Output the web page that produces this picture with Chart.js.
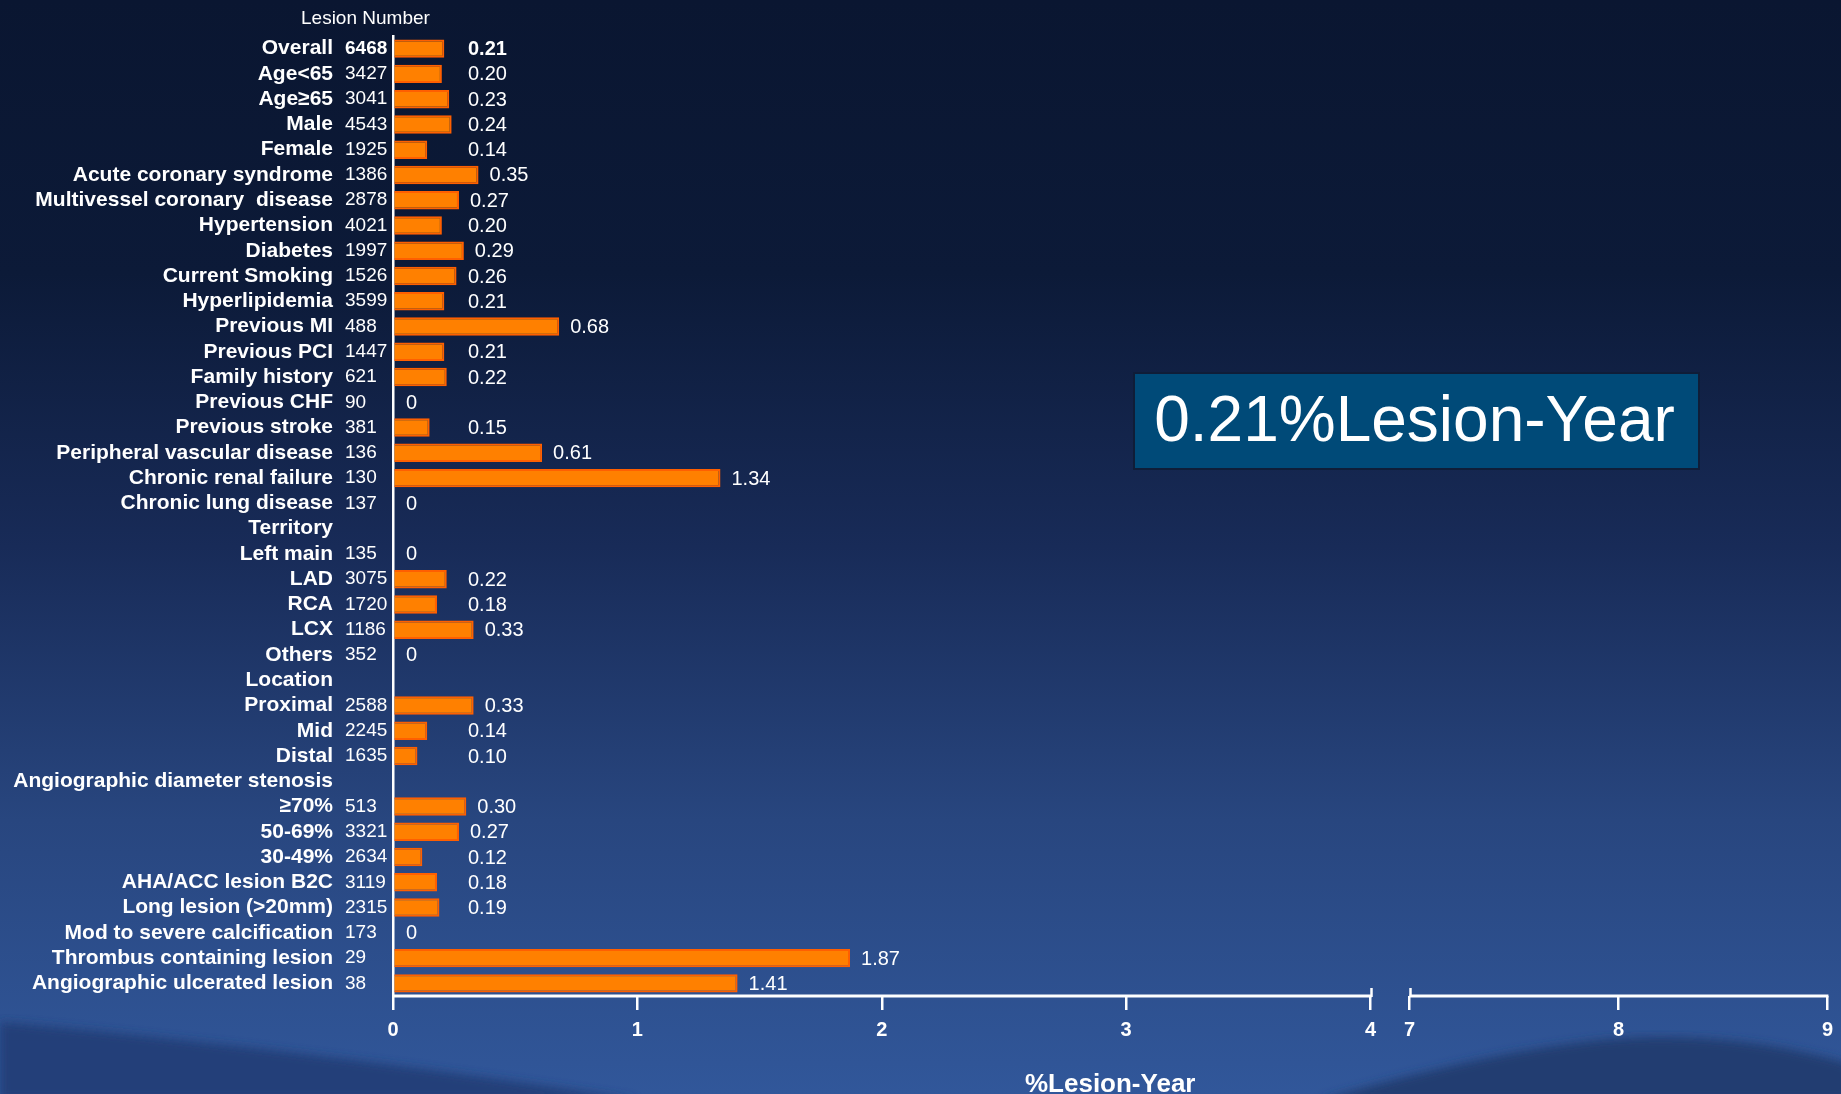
<!DOCTYPE html>
<html>
<head>
<meta charset="utf-8">
<title>Lesion-year event rate by subgroup</title>
<script src="https://cdn.jsdelivr.net/npm/chart.js@4.4.1/dist/chart.umd.min.js"></script>
<style>
  html, body { margin: 0; padding: 0; width: 1841px; height: 1094px; overflow: hidden; background: #0a1631; }
  #bg { position: absolute; left: 0; top: 0; }
  #wrap { position: absolute; left: 0; top: 0; width: 1841px; height: 1094px; }
</style>
</head>
<body>
<svg id="bg" width="1841" height="1094" viewBox="0 0 1841 1094">
  <defs>
    <linearGradient id="sky" x1="0" y1="0" x2="0" y2="1">
      <stop offset="0" stop-color="#0a1631"/>
      <stop offset="0.25" stop-color="#0c1a38"/>
      <stop offset="0.5" stop-color="#182b58"/>
      <stop offset="0.75" stop-color="#28467f"/>
      <stop offset="1" stop-color="#31579a"/>
    </linearGradient>
    <filter id="soft" x="-10%" y="-10%" width="120%" height="120%"><feGaussianBlur stdDeviation="5"/></filter>
  </defs>
  <rect width="1841" height="1094" fill="url(#sky)"/>
  <path d="M0 1022 C 180 1038, 420 1066, 640 1100 L0 1100 Z" fill="#213e76" opacity="0.9" filter="url(#soft)"/>
  <path d="M1320 1100 C 1440 1066, 1560 1038, 1655 1037 C 1740 1037, 1800 1050, 1850 1064 L1850 1100 Z" fill="#233d71" filter="url(#soft)"/>
</svg>
<div id="wrap"><canvas id="c" width="1841" height="1094"></canvas></div>
<script>
// Subgroups (header rows carry no count and no rate)
const categories = [
  'Overall', 'Age<65', 'Age≥65', 'Male', 'Female',
  'Acute coronary syndrome', 'Multivessel coronary  disease', 'Hypertension', 'Diabetes', 'Current Smoking',
  'Hyperlipidemia', 'Previous MI', 'Previous PCI', 'Family history', 'Previous CHF',
  'Previous stroke', 'Peripheral vascular disease', 'Chronic renal failure', 'Chronic lung disease', 'Territory',
  'Left main', 'LAD', 'RCA', 'LCX', 'Others',
  'Location', 'Proximal', 'Mid', 'Distal', 'Angiographic diameter stenosis',
  '≥70%', '50-69%', '30-49%', 'AHA/ACC lesion B2C', 'Long lesion (>20mm)',
  'Mod to severe calcification', 'Thrombus containing lesion', 'Angiographic ulcerated lesion'
];

// Lesion number per subgroup
const lesionNumbers = [
  '6468', '3427', '3041', '4543', '1925',
  '1386', '2878', '4021', '1997', '1526',
  '3599', '488', '1447', '621', '90',
  '381', '136', '130', '137', '',
  '135', '3075', '1720', '1186', '352',
  '', '2588', '2245', '1635', '',
  '513', '3321', '2634', '3119', '2315',
  '173', '29', '38'
];

// Event rate, %lesion-year
const rates = [
  0.21, 0.20, 0.23, 0.24, 0.14,
  0.35, 0.27, 0.20, 0.29, 0.26,
  0.21, 0.68, 0.21, 0.22, 0,
  0.15, 0.61, 1.34, 0, null,
  0, 0.22, 0.18, 0.33, 0,
  null, 0.33, 0.14, 0.10, null,
  0.30, 0.27, 0.12, 0.18, 0.19,
  0, 1.87, 1.41
];

// Axis ticks on both sides of the break
const xTicks = [0, 1, 2, 3, 4, 7, 8, 9];
const xBreakLow = 4;
const xBreakHigh = 7;

const FONT = "'Liberation Sans', Arial, Helvetica, sans-serif";

// Linear axis with a gap between xBreakLow and xBreakHigh
class BrokenLinearScale extends Chart.LinearScale {
  static id = 'brokenLinear';
  static defaults = Chart.LinearScale.defaults;

  buildTicks() {
    return xTicks.map(value => ({ value }));
  }
  _share() {
    // fractions of the axis length used by the low segment and the gap
    return { low: 0.6815, gap: 0.0272 };
  }
  _decimalFor(value) {
    const s = this._share();
    const hi = 1 - s.low - s.gap;
    if (value <= xBreakLow) return (value - this.min) / (xBreakLow - this.min) * s.low;
    if (value >= xBreakHigh) return s.low + s.gap + (value - xBreakHigh) / (this.max - xBreakHigh) * hi;
    return s.low + s.gap / 2;
  }
  getPixelForValue(value) {
    if (value === null || value === undefined || isNaN(value)) return NaN;
    return this.getPixelForDecimal(this._decimalFor(value));
  }
  getValueForPixel(pixel) {
    const d = this.getDecimalForPixel(pixel);
    const s = this._share();
    if (d <= s.low) return this.min + d / s.low * (xBreakLow - this.min);
    const hi = 1 - s.low - s.gap;
    return xBreakHigh + (d - s.low - s.gap) / hi * (this.max - xBreakHigh);
  }
}
Chart.register(BrokenLinearScale);

// Axis line drawn in two segments, break marks, value labels, heading and summary box
const decorations = {
  id: 'decorations',
  afterDatasetsDraw(chart) {
    const { ctx, chartArea } = chart;
    const x = chart.scales.x;
    const y = chart.scales.y;
    const yAxis = chartArea.bottom;

    ctx.save();
    ctx.strokeStyle = '#ffffff';
    ctx.lineWidth = 3;
    ctx.lineCap = 'butt';
    const segs = [[x.getPixelForValue(0), x.getPixelForValue(xBreakLow)],
                  [x.getPixelForValue(xBreakHigh), x.getPixelForValue(x.max)]];
    segs.forEach(([a, b]) => {
      ctx.beginPath();
      ctx.moveTo(a, yAxis);
      ctx.lineTo(b + 1, yAxis);
      ctx.stroke();
    });
    ctx.lineWidth = 2.5;
    [xBreakLow, xBreakHigh].forEach(v => {
      const p = Math.round(x.getPixelForValue(v)) + 0.5;
      ctx.beginPath();
      ctx.moveTo(p, yAxis - 8);
      ctx.lineTo(p, yAxis + 1);
      ctx.stroke();
    });

    // value labels
    const meta = chart.getDatasetMeta(0);
    const zero = x.getPixelForValue(0);
    ctx.fillStyle = '#ffffff';
    ctx.textBaseline = 'middle';
    ctx.textAlign = 'left';
    rates.forEach((v, i) => {
      if (v === null) return;
      const bar = meta.data[i];
      const cy = y.getPixelForValue(i);
      ctx.font = (i === 0 ? 'bold ' : '') + '20px ' + FONT;
      let tx;
      let txt;
      if (v === 0) {
        tx = zero + 13;
        txt = '0';
      } else {
        tx = Math.max(zero + 75, bar.x + 11);
        txt = v.toFixed(2);
      }
      ctx.fillText(txt, tx, cy + 1);
    });

    // column heading for the lesion counts
    ctx.font = '19px ' + FONT;
    ctx.fillText('Lesion Number', 301, 19);

    // overall rate box
    const bx = 1134, by = 373, bw = 565, bh = 96;
    ctx.fillStyle = '#004a78';
    ctx.fillRect(bx, by, bw, bh);
    ctx.strokeStyle = '#0f1d38';
    ctx.lineWidth = 2;
    ctx.strokeRect(bx, by, bw, bh);
    ctx.fillStyle = '#ffffff';
    ctx.font = '64px ' + FONT;
    ctx.textAlign = 'center';
    ctx.fillText(rates[0].toFixed(2) + '%Lesion-Year', bx + bw / 2 - 2, by + bh / 2 + 2);
    ctx.restore();
  }
};

new Chart(document.getElementById('c'), {
  type: 'bar',
  data: {
    labels: categories,
    datasets: [{
      data: rates,
      backgroundColor: '#ff8000',
      borderColor: '#ff5f00',
      borderWidth: 2,
      borderSkipped: 'start',
      barPercentage: 0.73,
      categoryPercentage: 1.0
    }]
  },
  options: {
    indexAxis: 'y',
    responsive: false,
    animation: false,
    devicePixelRatio: 1,
    layout: { padding: { top: 36, right: 13, bottom: 0, left: 0 } },
    plugins: {
      legend: { display: false },
      tooltip: { enabled: false },
      title: { display: false }
    },
    scales: {
      x: {
        type: 'brokenLinear',
        position: 'bottom',
        min: 0,
        max: 9,
        grid: {
          display: true,
          drawOnChartArea: false,
          drawTicks: true,
          tickLength: 14,
          color: '#ffffff',
          lineWidth: 2.5
        },
        border: { display: false },
        ticks: {
          autoSkip: false,
          maxRotation: 0,
          padding: 8,
          color: '#ffffff',
          font: { family: FONT, size: 20, weight: 'bold' },
          callback: v => String(v)
        },
        title: {
          display: true,
          text: '%Lesion-Year',
          color: '#ffffff',
          font: { family: FONT, size: 26, weight: 'bold', lineHeight: 0.7 },
          padding: 0
        },
        afterFit: s => { s.height = 98; }
      },
      y: {
        type: 'category',
        position: 'left',
        weight: 1,
        offset: true,
        grid: { display: false, drawTicks: false },
        border: { display: false },
        ticks: {
          autoSkip: false,
          padding: 12,
          color: '#ffffff',
          font: { family: FONT, size: 21, weight: 'bold' }
        },
        afterFit: s => { s.width = 345; }
      },
      yNum: {
        type: 'category',
        position: 'left',
        weight: 0,
        offset: true,
        labels: lesionNumbers,
        grid: { display: false, drawTicks: false },
        border: { display: true, color: '#ffffff', width: 2.5 },
        ticks: {
          autoSkip: false,
          padding: 0,
          crossAlign: 'far',
          color: '#ffffff',
          font: ctx => ({ family: FONT, size: 19, weight: ctx.index === 0 ? 'bold' : 'normal' })
        },
        afterFit: s => { s.width = 48; }
      }
    }
  },
  plugins: [decorations]
});
</script>
</body>
</html>
